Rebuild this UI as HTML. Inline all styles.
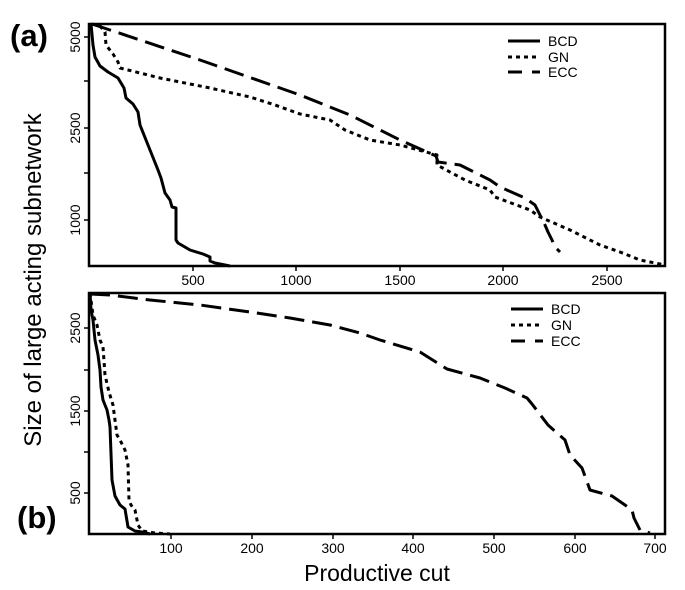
<!DOCTYPE html>
<html><head><meta charset="utf-8"><style>
html,body{margin:0;padding:0;background:#fff;}
svg{display:block;font-family:"Liberation Sans",Arial,sans-serif;}
</style></head><body>
<svg width="685" height="590" viewBox="0 0 685 590" xmlns="http://www.w3.org/2000/svg">
<g fill="none" stroke="#000">
<rect x="89" y="24" width="576" height="242" stroke-width="2.5"/>
<g stroke-width="1.5">
<line x1="193" y1="266" x2="193" y2="271"/><line x1="296" y1="266" x2="296" y2="271"/>
<line x1="400" y1="266" x2="400" y2="271"/><line x1="503" y1="266" x2="503" y2="271"/>
<line x1="607" y1="266" x2="607" y2="271"/>
<line x1="84" y1="37" x2="89" y2="37"/><line x1="84" y1="81" x2="89" y2="81"/>
<line x1="84" y1="128" x2="89" y2="128"/><line x1="84" y1="173" x2="89" y2="173"/>
<line x1="84" y1="220" x2="89" y2="220"/>
</g>
<g stroke-width="3" stroke-linejoin="round">
<polyline points="91,24 93,45 95,57 100,66 108,72 118,78 124,88 126,98 133,104 138,112 140,125 146,140 154,160 158,170 161,178 165,193 170,200 172,207 176,208 176,240 178,243 190,250 203,254 210,257 210,261 215,263 230,266"/>
<polyline stroke-dasharray="4,4" points="92,24 100,26 105,32 106,45 113,54 118,62 120,68 128,70 160,78 210,88 250,97 275,105 300,114 330,120 345,130 370,140 400,145 437,155 437,165 465,180 490,190 495,197 530,210 540,217 570,230 580,235 600,245 620,252 640,260 665,265"/>
<polyline stroke-dasharray="20,8" points="92,24 110,30 200,60 300,95 350,115 400,140 436,156 438,162 460,165 490,180 500,187 525,198 535,205 540,215 545,225 548,232 552,240 555,247 560,252"/>
</g>
<line x1="508" y1="41" x2="540" y2="41" stroke-width="3"/>
<line x1="508" y1="57" x2="540" y2="57" stroke-width="3" stroke-dasharray="4,4"/>
<line x1="508" y1="72" x2="540" y2="72" stroke-width="3" stroke-dasharray="14,10"/>

<rect x="89" y="293" width="576" height="241" stroke-width="2.5"/>
<g stroke-width="1.5">
<line x1="171" y1="534" x2="171" y2="539"/><line x1="252" y1="534" x2="252" y2="539"/>
<line x1="333" y1="534" x2="333" y2="539"/><line x1="413" y1="534" x2="413" y2="539"/>
<line x1="494" y1="534" x2="494" y2="539"/><line x1="575" y1="534" x2="575" y2="539"/>
<line x1="655" y1="534" x2="655" y2="539"/>
<line x1="84" y1="328" x2="89" y2="328"/><line x1="84" y1="370" x2="89" y2="370"/>
<line x1="84" y1="411" x2="89" y2="411"/><line x1="84" y1="452" x2="89" y2="452"/>
<line x1="84" y1="493" x2="89" y2="493"/>
</g>
<g stroke-width="3" stroke-linejoin="round">
<polyline points="90,293 91,310 93,320 95,340 98,355 100,370 101,387 103,400 107,410 109,420 110,427 112,480 115,496 120,505 125,509 126,515 128,527 135,531 142,532 150,534"/>
<polyline stroke-dasharray="4,4" points="90,293 93,315 97,325 100,340 103,347 105,375 109,392 113,405 117,435 120,440 125,450 128,465 129,500 131,505 135,510 138,525 142,531 155,533 170,534"/>
<polyline stroke-dasharray="20,8" points="90,294 110,295 150,300 200,305 250,312 290,318 330,325 360,333 380,340 420,352 447,369 480,378 505,388 527,398 532,404 548,425 565,440 570,455 582,468 590,490 612,496 625,505 632,510 634,518 640,530 650,533"/>
</g>
<line x1="511" y1="309" x2="543" y2="309" stroke-width="3"/>
<line x1="511" y1="325" x2="543" y2="325" stroke-width="3" stroke-dasharray="4,4"/>
<line x1="511" y1="341" x2="543" y2="341" stroke-width="3" stroke-dasharray="14,10"/>
</g>

<g font-size="14" fill="#000" text-anchor="middle">
<text x="193" y="285">500</text><text x="296" y="285">1000</text><text x="400" y="285">1500</text>
<text x="503" y="285">2000</text><text x="607" y="285">2500</text>
<text transform="translate(80,37) rotate(-90)">5000</text>
<text transform="translate(80,128) rotate(-90)">2500</text>
<text transform="translate(80,220) rotate(-90)">1000</text>
<text x="171" y="553">100</text><text x="252" y="553">200</text><text x="333" y="553">300</text>
<text x="413" y="553">400</text><text x="494" y="553">500</text><text x="575" y="553">600</text>
<text x="655" y="553">700</text>
<text transform="translate(80,328) rotate(-90)">2500</text>
<text transform="translate(80,411) rotate(-90)">1500</text>
<text transform="translate(80,493) rotate(-90)">500</text>
</g>
<g font-size="14" fill="#000">
<text x="548" y="46">BCD</text><text x="548" y="62">GN</text><text x="548" y="77">ECC</text>
<text x="551" y="314">BCD</text><text x="551" y="330">GN</text><text x="551" y="346">ECC</text>
</g>
<text x="10" y="46" font-size="31" font-weight="bold">(a)</text>
<text x="17" y="528" font-size="31" font-weight="bold">(b)</text>
<text transform="translate(41,280) rotate(-90)" font-size="24" text-anchor="middle">Size of large acting subnetwork</text>
<text x="377" y="581" font-size="23" text-anchor="middle">Productive cut</text>
</svg>
</body></html>
